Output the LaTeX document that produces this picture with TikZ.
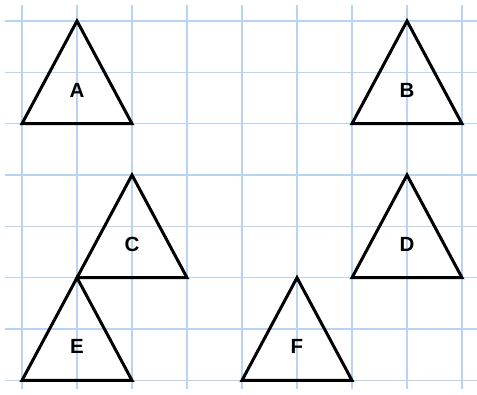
\documentclass[tikz,border=0pt]{standalone}
\usepackage{fontspec}
\setmainfont{Liberation Sans}
\definecolor{gridblue}{RGB}{185,212,242}
\begin{document}
\begin{tikzpicture}[x=1pt,y=-1pt,
  gridline/.style={draw=gridblue,line width=1.3pt},
  tri/.style={draw=black,line width=3pt,line join=miter},
  lbl/.style={font=\fontsize{20.5}{20.5}\selectfont\bfseries,inner sep=0pt}]
\useasboundingbox (0,0) rectangle (477,394);
\foreach \x in {22,77,132,187,242,297,352,407,462}
  \draw[gridline] (\x,5) -- (\x,389);
\foreach \y in {21,72.3,123.7,175,226.3,277.7,329,380.3}
  \draw[gridline] (5,\y) -- (477,\y);
% triangles: apex x, apex y
\foreach \ax/\ay/\nm in {77/21/A,407/21/B,132/175/C,407/175/D,77/277.7/E,297/277.7/F}{
  \coordinate (\nm top) at (\ax,\ay);
  \coordinate (\nm l) at (\ax-55,\ay+102.7);
  \coordinate (\nm r) at (\ax+55,\ay+102.7);
  \draw[tri] (\nm top) -- (\nm l) -- (\nm r) -- cycle;
  \node[lbl] (\nm) at (\ax,\ay+69) {\nm};
}
\end{tikzpicture}
\end{document}
